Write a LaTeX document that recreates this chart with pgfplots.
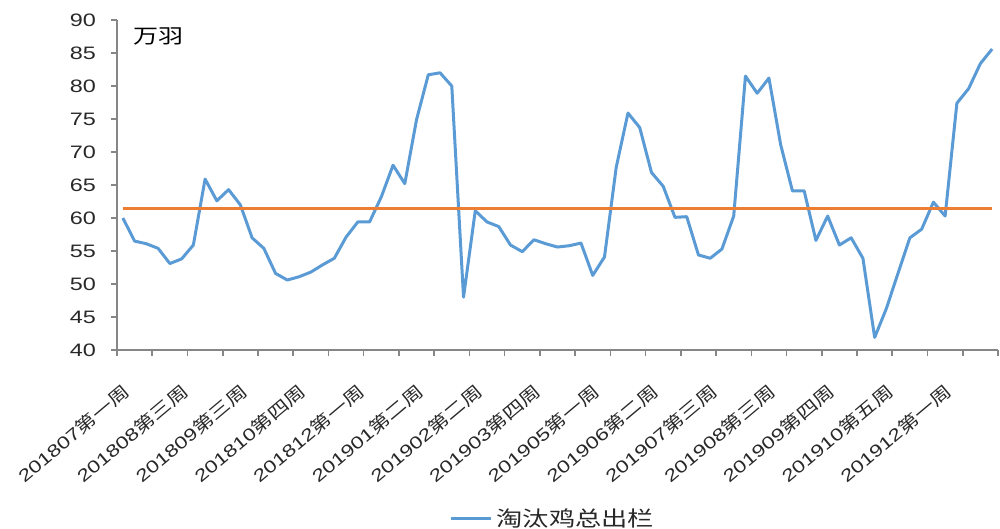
\documentclass[border=0pt]{standalone}
\usepackage{pgfplots}
\pgfplotsset{compat=1.18}
\usepackage{pgfplotstable}
\usepackage{fontspec}
\setmainfont{Liberation Sans}[FakeStretch=1.3]
\newfontfamily\cjk{Noto Sans CJK SC}[FakeStretch=1.25]

\definecolor{lineblue}{RGB}{91,155,213}
\definecolor{lineorange}{RGB}{237,125,49}
\definecolor{axisgray}{RGB}{134,134,134}
\definecolor{textgray}{RGB}{40,40,40}

% weekly culled-hen sales, 75 weeks
\pgfplotstableread{
i v
0 60.0
1 56.5
2 56.1
3 55.4
4 53.1
5 53.8
6 55.9
7 65.9
8 62.6
9 64.3
10 62.0
11 57.0
12 55.4
13 51.6
14 50.6
15 51.1
16 51.8
17 52.9
18 53.9
19 57.1
20 59.4
21 59.4
22 63.2
23 68.0
24 65.2
25 74.9
26 81.7
27 82.0
28 80.0
29 48.0
30 61.1
31 59.4
32 58.7
33 55.9
34 54.9
35 56.7
36 56.1
37 55.6
38 55.8
39 56.2
40 51.3
41 54.1
42 67.7
43 75.9
44 73.7
45 66.9
46 64.8
47 60.1
48 60.2
49 54.4
50 53.9
51 55.3
52 60.3
53 81.5
54 78.9
55 81.2
56 71.1
57 64.1
58 64.1
59 56.6
60 60.3
61 55.9
62 57.0
63 53.9
64 41.9
65 46.3
66 51.7
67 57.0
68 58.3
69 62.4
70 60.3
71 77.4
72 79.6
73 83.4
74 85.6
}\culled

\begin{document}
\begin{tikzpicture}
\path[use as bounding box] (0,0) rectangle (500pt,264.5pt);
\begin{axis}[
    at={(58.5pt,89.5pt)}, anchor=south west,
    scale only axis, width=440.5pt, height=165pt,
    xmin=-0.5, xmax=74.5, ymin=40, ymax=90,
    axis x line*=bottom, axis y line*=left,
    axis line style={axisgray, line width=0.8pt},
    tick align=outside,
    major tick length=3pt,
    tick style={axisgray, line width=0.8pt},
    ytick={40,45,...,90},
    yticklabel style={xshift=-4pt},
    xtick={-0.5,2.5,...,74.5},
    xticklabel=\empty,
    extra x ticks={0,5,...,70},
    extra x tick labels={201807{\cjk 第一周},201808{\cjk 第三周},201809{\cjk 第三周},201810{\cjk 第四周},201812{\cjk 第一周},201901{\cjk 第二周},201902{\cjk 第二周},201903{\cjk 第四周},201905{\cjk 第一周},201906{\cjk 第二周},201907{\cjk 第三周},201908{\cjk 第三周},201909{\cjk 第四周},201910{\cjk 第五周},201912{\cjk 第一周}},
    extra x tick style={major tick length=0pt,
        xticklabel style={font=\fontsize{8.6}{10}\selectfont, xshift=-0.5pt, yshift=-16pt, rotate=40, anchor=north east, inner sep=0pt}},
    ticklabel style={font=\fontsize{9}{10}\selectfont, text=textgray},
    /pgf/number format/assume math mode=true,
    legend style={at={(0.496,-0.512)}, anchor=center, draw=none, fill=none,
        font=\cjk\fontsize{10.5}{12}\selectfont, text=textgray},
    legend image code/.code={\draw[#1] (0pt,0pt) -- (20pt,0pt);},
]
\addplot[lineblue, line width=1.5pt, line join=round] table[x=i, y=v] {\culled};
\addlegendentry{淘汰鸡总出栏}
\addplot[lineorange, line width=1.5pt, forget plot] coordinates {(0,61.5) (74,61.5)};
\node[font=\cjk\fontsize{10}{12}\selectfont, text=black] at (axis cs:3,87.5) {万羽};
\end{axis}
\end{tikzpicture}
\end{document}
